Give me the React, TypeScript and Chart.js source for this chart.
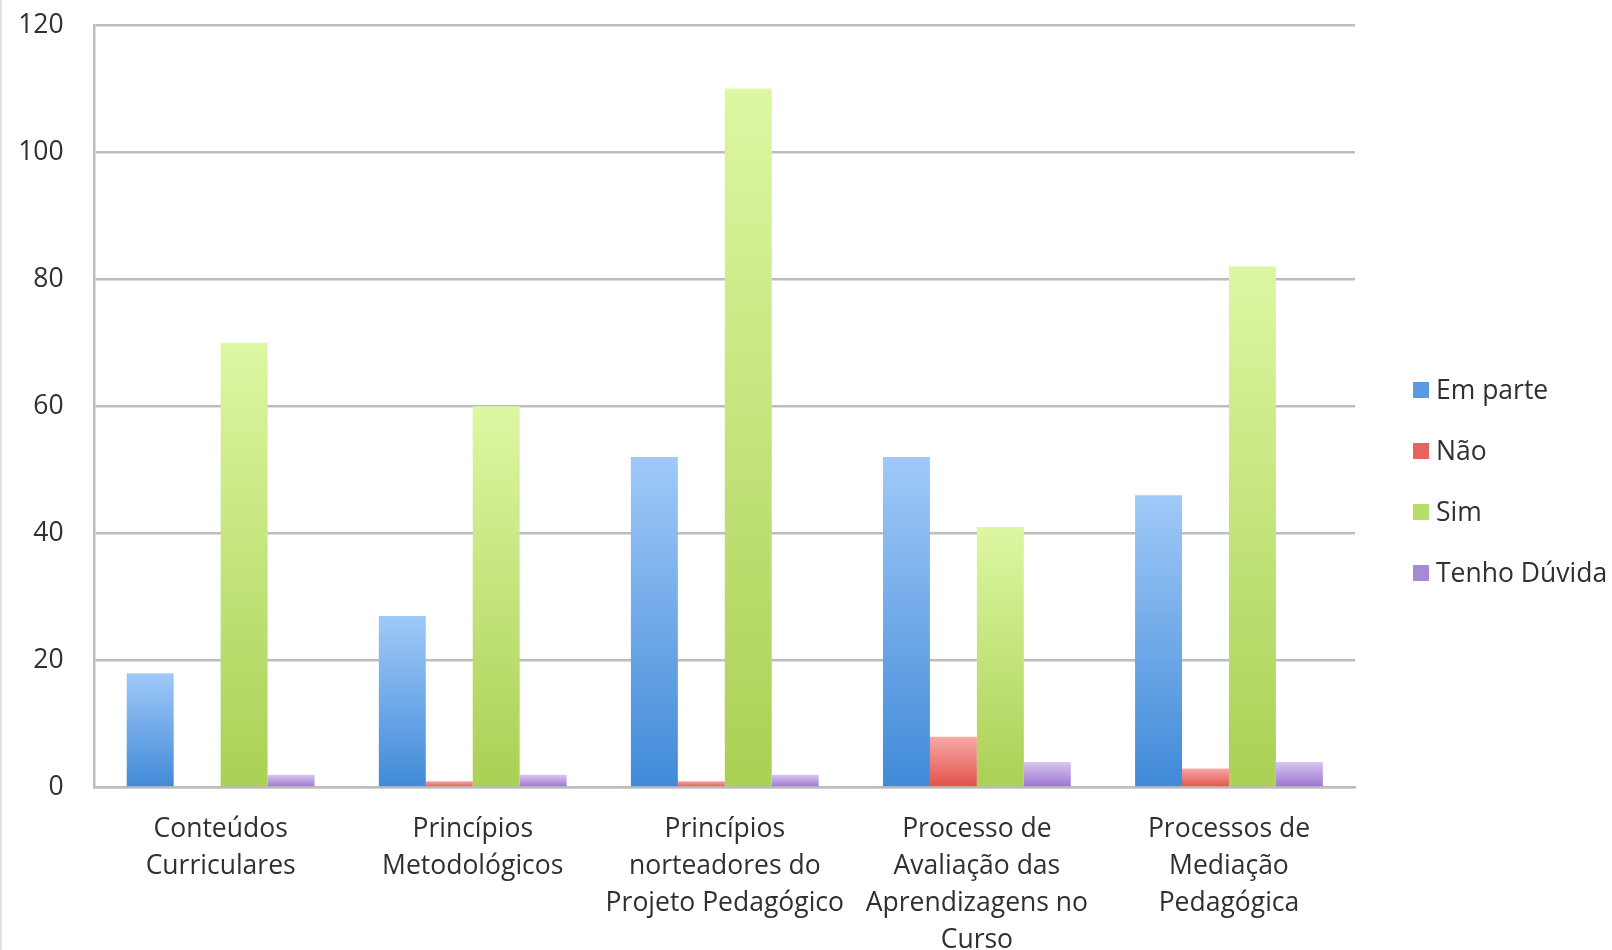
import React, { useEffect, useRef } from "react";
import { Chart, registerables } from "chart.js";

Chart.register(...registerables);

const categories: string[][] = [
  ["Conteúdos", "Curriculares"],
  ["Princípios", "Metodológicos"],
  ["Princípios", "norteadores do", "Projeto Pedagógico"],
  ["Processo de", "Avaliação das", "Aprendizagens no", "Curso"],
  ["Processos de", "Mediação", "Pedagógica"],
];
const seriesNames = ["Em parte", "Não", "Sim", "Tenho Dúvida"];
const emParte = [18, 27, 52, 52, 46];
const nao = [0, 1, 1, 8, 3];
const sim = [70, 60, 110, 41, 82];
const tenhoDuvida = [2, 2, 2, 4, 4];
const yTicks = [0, 20, 40, 60, 80, 100, 120];

const topColors = ["#a0c9f8", "#f7a9a6", "#ddf7a2", "#d8c4f2"];
const bottomColors = ["#408ad8", "#e2504a", "#aad054", "#9a74cf"];
const legendColors = ["#5a9be0", "#e8625e", "#b9dc6c", "#a68ad6"];

const FONT = '"Open Sans", "DejaVu Sans", sans-serif';
const TEXT = "#303030";
const FS = 26.5;

const grad = (i: number) => (ctx: any) => {
  const chart = ctx.chart;
  const area = chart.chartArea;
  if (!area || ctx.type !== "data") return bottomColors[i];
  const ys = chart.scales.y;
  const v = ctx.parsed ? ctx.parsed.y : ctx.raw;
  const top = ys.getPixelForValue(v);
  const base = ys.getPixelForValue(0);
  if (!isFinite(top) || base - top < 1) return bottomColors[i];
  const g = chart.ctx.createLinearGradient(0, top, 0, base);
  g.addColorStop(0, topColors[i]);
  g.addColorStop(1, bottomColors[i]);
  return g;
};

const legendPlugin = {
  id: "customLegend",
  afterDraw(chart: any) {
    const c = chart.ctx;
    c.save();
    c.font = `${FS}px ${FONT}`;
    c.textBaseline = "middle";
    c.textAlign = "left";
    chart.data.datasets.forEach((ds: any, i: number) => {
      const y = 390 + i * 61;
      c.fillStyle = legendColors[i];
      c.fillRect(1413, y - 8, 16, 16);
      c.fillStyle = TEXT;
      c.fillText(ds.label, 1436, y + 1);
    });
    c.restore();
  },
};

const bgPlugin = {
  id: "bg",
  beforeDraw(chart: any) {
    const c = chart.ctx;
    c.save();
    c.fillStyle = "#ffffff";
    c.fillRect(0, 0, chart.width, chart.height);
    c.strokeStyle = "#e2e2e2";
    c.lineWidth = 2;
    c.beginPath();
    c.moveTo(1, 0);
    c.lineTo(1, chart.height);
    c.stroke();
    c.restore();
  },
};

export default function App() {
  const ref = useRef<HTMLCanvasElement | null>(null);
  useEffect(() => {
    document.body.style.margin = "0";
    const seriesData = [emParte, nao, sim, tenhoDuvida];
    const chart = new Chart(ref.current as HTMLCanvasElement, {
      type: "bar",
      data: {
        labels: categories,
        datasets: seriesNames.map((name, i) => ({
          label: name,
          data: seriesData[i],
          backgroundColor: grad(i),
          borderWidth: 0,
          barPercentage: 1,
          categoryPercentage: 0.745,
        })),
      },
      options: {
        animation: false,
        responsive: false,
        maintainAspectRatio: false,
        layout: { padding: { left: 0, right: 257, top: 25, bottom: 0 } },
        plugins: { legend: { display: false }, tooltip: { enabled: false } },
        scales: {
          x: {
            grid: { display: false, drawTicks: false },
            border: { display: true, color: "#bdbdbd", width: 2.5 },
            ticks: {
              autoSkip: false,
              maxRotation: 0,
              minRotation: 0,
              padding: 23,
              color: TEXT,
              font: { family: FONT, size: FS, lineHeight: 37 / FS },
            },
            afterFit: (s: any) => {
              s.height = 162.5;
            },
          },
          y: {
            min: 0,
            max: 120,
            grid: { color: "#bdbdbd", lineWidth: 2.5, drawTicks: false },
            border: { display: true, color: "#bdbdbd", width: 2.5 },
            afterBuildTicks: (s: any) => {
              s.ticks = yTicks.map((v) => ({ value: v }));
            },
            ticks: {
              padding: 31,
              color: TEXT,
              font: { family: FONT, size: FS },
            },
            afterFit: (s: any) => {
              s.width = 94.6;
              s.paddingTop = 16;
              s.paddingBottom = 16;
            },
          },
        },
      },
      plugins: [bgPlugin, legendPlugin],
    });
    return () => chart.destroy();
  }, []);
  return (
    <div style={{ width: 1612, height: 950 }}>
      <canvas ref={ref} width={1612} height={950} style={{ display: "block" }} />
    </div>
  );
}
